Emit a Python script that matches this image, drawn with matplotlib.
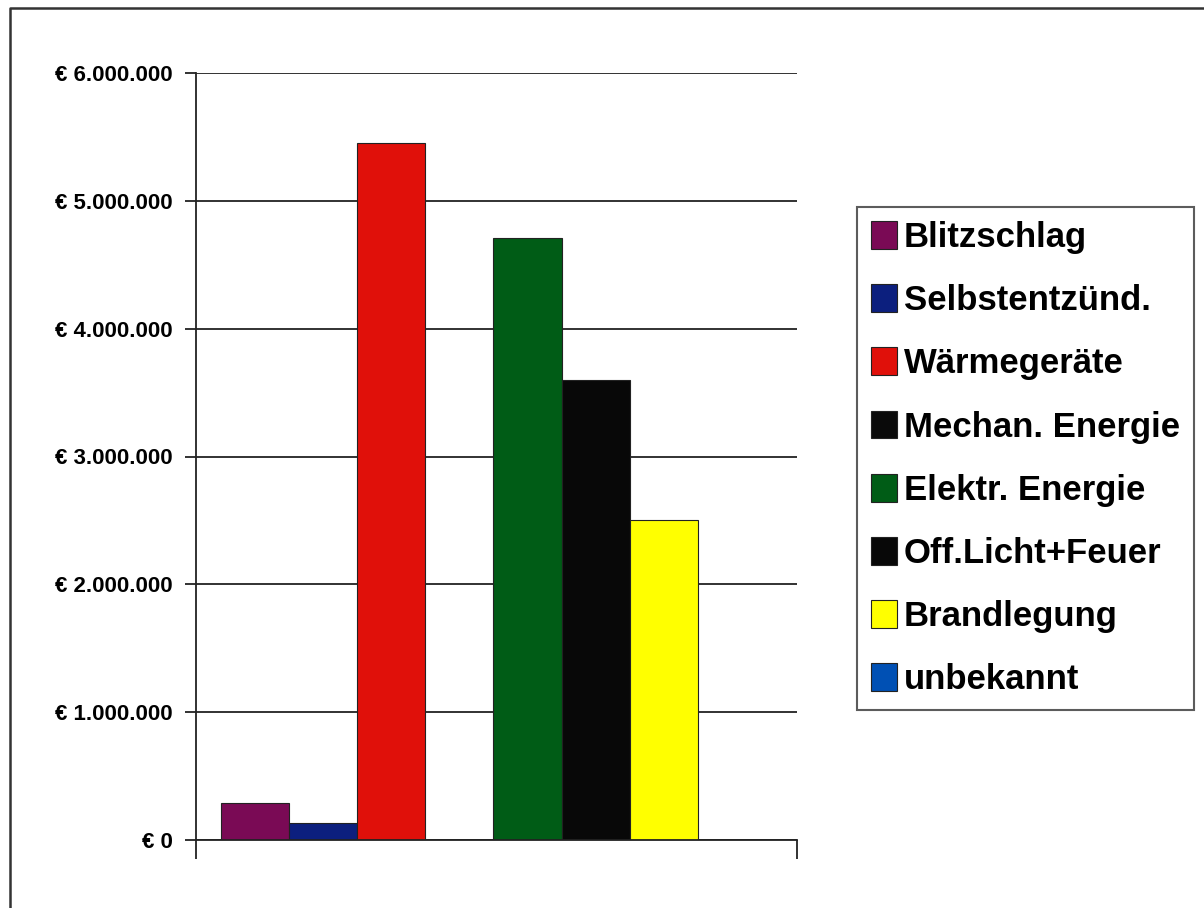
import matplotlib.pyplot as plt
from matplotlib.lines import Line2D
from matplotlib.ticker import FuncFormatter

causes = ["Blitzschlag", "Selbstentzünd.", "Wärmegeräte", "Mechan. Energie",
          "Elektr. Energie", "Off.Licht+Feuer", "Brandlegung", "unbekannt"]
damage = [290000, 135000, 5450000, 0, 4710000, 3600000, 2500000, 0]
colors = ["#7a0a55", "#0c1f7e", "#e0100a", "#0a0a0a",
          "#005c16", "#080808", "#ffff00", "#0050b4"]
yticks = [0, 1000000, 2000000, 3000000, 4000000, 5000000, 6000000]

plt.rcParams['font.family'] = ['Liberation Sans', 'DejaVu Sans']

fig = plt.figure(figsize=(12.04, 9.08), dpi=100)
# scanned page frame: only the top and left edges show
fig.lines.append(Line2D([10/1204, 10/1204, 1.0], [0.0, 1-8/908, 1-8/908],
                        transform=fig.transFigure, color='#333333', lw=1.8))

ax = fig.add_axes([196/1204, 1-840/908, 601/1204, 767/908])
ax.set_axisbelow(True)
ax.yaxis.grid(True, color='#222222', lw=1.3)
for i, (c, v, col) in enumerate(zip(causes, damage, colors)):
    ax.bar(i, v, width=1.0, color=col, edgecolor='#222222', lw=0.8, label=c)

ax.set_ylim(0, 6000000)
ax.set_xlim(-0.86, 7.95)
ax.set_yticks(yticks)
ax.yaxis.set_major_formatter(FuncFormatter(
    lambda v, p: "€ " + "{:,}".format(int(v)).replace(",", ".")))
ax.set_xticks([-0.86, 7.95])
ax.set_xticklabels(["", ""])
ax.tick_params(axis='x', direction='out', length=14, width=1.3, color='#222222')
ax.tick_params(axis='y', direction='out', length=8, width=1.3, color='#222222',
               labelsize=16, pad=9)
for lab in ax.get_yticklabels():
    lab.set_fontweight('bold')
for s in ['top', 'right']:
    ax.spines[s].set_visible(False)
for s in ['left', 'bottom']:
    ax.spines[s].set_color('#222222')
    ax.spines[s].set_linewidth(1.3)

leg = fig.legend(loc='upper left', bbox_to_anchor=(857/1204, 1-207/908),
                 frameon=True, fancybox=False, edgecolor='#333333',
                 prop={'size': 25, 'weight': 'bold'}, handlelength=0.75,
                 handleheight=0.85, handletextpad=0.2, labelspacing=0.87,
                 borderpad=0.4, borderaxespad=0)
leg.get_frame().set_linewidth(1.5)

fig.savefig("out.png", dpi=100)
